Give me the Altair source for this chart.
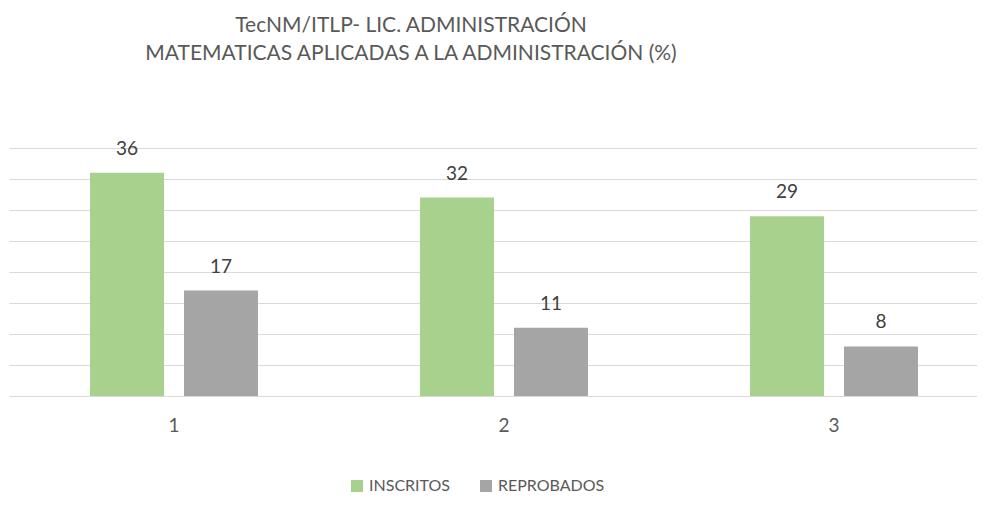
import altair as alt
import pandas as pd

grupos = ["1", "2", "3"]
inscritos = [36, 32, 29]
reprobados = [17, 11, 8]
series = ["INSCRITOS", "REPROBADOS"]
colores = ["#A9D18E", "#A5A5A5"]

rows = []
for g, a, b in zip(grupos, inscritos, reprobados):
    rows.append({"grupo": g, "serie": series[0], "valor": a})
    rows.append({"grupo": g, "serie": series[1], "valor": b})
df = pd.DataFrame(rows)

FONT = "Lato"
TXT = "#595959"

x = alt.X("grupo:N", sort=grupos, title=None,
          scale=alt.Scale(range=[0, 990], paddingInner=0, paddingOuter=0),
          axis=alt.Axis(labelAngle=0, domain=False, ticks=False, labelPadding=20,
                        labelFontSize=19, labelColor=TXT, labelFont=FONT))
xo = alt.XOffset("serie:N", sort=series,
                 scale=alt.Scale(paddingInner=0.2128, paddingOuter=0.862))
y = alt.Y("valor:Q", title=None,
          scale=alt.Scale(domain=[0, 40], nice=False),
          axis=alt.Axis(values=list(range(0, 45, 5)), labels=False, ticks=False,
                        domain=False, grid=True, gridColor="#D9D9D9", gridWidth=1))

base = alt.Chart(df)
bars = base.mark_bar().encode(
    x=x, xOffset=xo, y=y,
    color=alt.Color("serie:N", sort=series,
                    scale=alt.Scale(domain=series, range=colores),
                    legend=alt.Legend(title=None, orient="none", direction="horizontal",
                                      legendX=340, legendY=330,
                                      symbolType="square", symbolSize=144,
                                      symbolStrokeWidth=0, labelFontSize=16,
                                      labelColor=TXT, labelFont=FONT,
                                      columnPadding=28, labelOffset=4)),
)
labels = base.mark_text(baseline="alphabetic", dy=-18, fontSize=19, color="#404040",
                        font=FONT).encode(
    x=x, xOffset=xo, y=y, text="valor:Q")

chart = alt.layer(bars, labels).properties(
    width=968, height=248,
    autosize=alt.AutoSizeParams(type="none"),
    padding={"left": 1, "top": 140, "right": 0, "bottom": 100},
    title=alt.TitleParams(
        text=["TecNM/ITLP- LIC. ADMINISTRACIÓN",
              "MATEMATICAS APLICADAS A LA ADMINISTRACIÓN (%)"],
        anchor="middle", dx=-82, offset=76, fontSize=21, font=FONT,
        fontWeight="normal", color=TXT, lineHeight=28),
).configure_view(stroke=None)

chart.save("out.html", embed_options={"renderer": "svg", "actions": False})
